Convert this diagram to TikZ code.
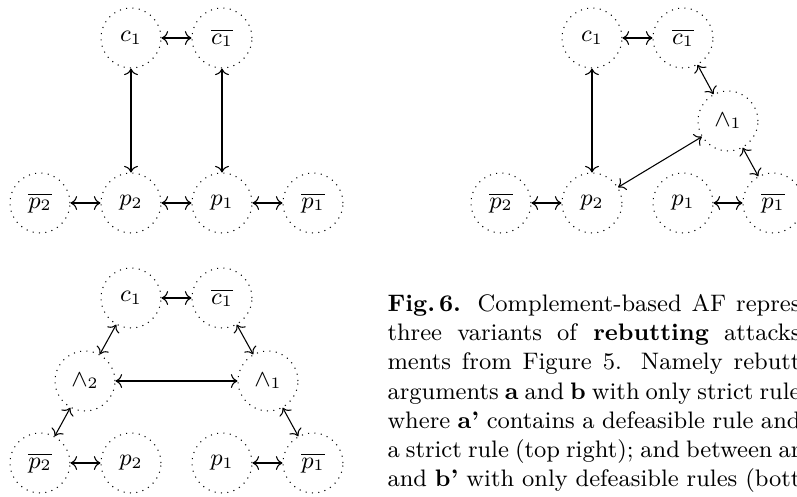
\documentclass[tikz,border=0pt]{standalone}
\usepackage{amsmath,amssymb}
\usetikzlibrary{positioning, arrows.meta}

\begin{document}
\begin{tikzpicture}[x=0.377pt, y=-0.377pt,
    arg/.style={draw, dotted, circle, minimum size=22.6pt, inner sep=1pt, font=\fontsize{8.6}{10}\selectfont},
    capline/.style={anchor=north west, inner sep=0pt, align=left, font=\fontsize{9}{11}\selectfont}
]
    \useasboundingbox (0,0) rectangle (797,497);

    % --- Top left: strict rules only ---
    \node[arg] (Ac1)  at (131, 38)  {$c_1$};
    \node[arg] (Anc1) at (222, 38)  {$\overline{c_1}$};
    \node[arg] (Anp2) at (40, 203)  {$\overline{p_2}$};
    \node[arg] (Ap2)  at (131, 203) {$p_2$};
    \node[arg] (Ap1)  at (222, 203) {$p_1$};
    \node[arg] (Anp1) at (313, 203) {$\overline{p_1}$};

    \draw[<->] (Ac1) -- (Anc1);
    \draw[<->] (Ac1) -- (Ap2);
    \draw[<->] (Anc1) -- (Ap1);
    \draw[<->] (Anp2) -- (Ap2);
    \draw[<->] (Ap2) -- (Ap1);
    \draw[<->] (Ap1) -- (Anp1);

    % --- Top right: one defeasible rule ---
    \node[arg] (Bc1)  at (592, 38)  {$c_1$};
    \node[arg] (Bnc1) at (683, 38)  {$\overline{c_1}$};
    \node[arg] (Band1) at (728, 121) {$\wedge_1$};
    \node[arg] (Bnp2) at (501, 203) {$\overline{p_2}$};
    \node[arg] (Bp2)  at (592, 203) {$p_2$};
    \node[arg] (Bp1)  at (683, 203) {$p_1$};
    \node[arg] (Bnp1) at (773, 203) {$\overline{p_1}$};

    \draw[<->] (Bc1) -- (Bnc1);
    \draw[<->] (Bc1) -- (Bp2);
    \draw[<->] (Bnc1) -- (Band1);
    \draw[<->] (Band1) -- (Bnp1);
    \draw[<->] (Bp2) -- (Band1);
    \draw[<->] (Bnp2) -- (Bp2);
    \draw[<->] (Bp1) -- (Bnp1);

    % --- Bottom: defeasible rules only ---
    \node[arg] (Cc1)  at (131, 298) {$c_1$};
    \node[arg] (Cnc1) at (222, 298) {$\overline{c_1}$};
    \node[arg] (Cand2) at (85, 381) {$\wedge_2$};
    \node[arg] (Cand1) at (268, 381) {$\wedge_1$};
    \node[arg] (Cnp2) at (40, 463)  {$\overline{p_2}$};
    \node[arg] (Cp2)  at (131, 463) {$p_2$};
    \node[arg] (Cp1)  at (222, 463) {$p_1$};
    \node[arg] (Cnp1) at (313, 463) {$\overline{p_1}$};

    \draw[<->] (Cc1) -- (Cnc1);
    \draw[<->] (Cc1) -- (Cand2);
    \draw[<->] (Cnc1) -- (Cand1);
    \draw[<->] (Cand2) -- (Cand1);
    \draw[<->] (Cand2) -- (Cnp2);
    \draw[<->] (Cand1) -- (Cnp1);
    \draw[<->] (Cnp2) -- (Cp2);
    \draw[<->] (Cp1) -- (Cnp1);

    % Caption (cut at the right edge)
    \node[capline] (cap) at (387, 294) {%
        \makebox[155.7pt][s]{\textbf{Fig.\,6.} Complement-based AF repres}\\
        \makebox[155.7pt][s]{three variants of \textbf{rebutting} attacks}\\
        \makebox[155.7pt][s]{ments from Figure 5. Namely rebutt}\\
        \makebox[155.7pt][s]{arguments \textbf{a} and \textbf{b} with only strict rule}\\
        \makebox[155.7pt][s]{where \textbf{a'} contains a defeasible rule and}\\
        \makebox[155.7pt][s]{a strict rule (top right); and between ar}\\
        \makebox[155.7pt][s]{and \textbf{b'} with only defeasible rules (bott}};

\end{tikzpicture}
\end{document}
